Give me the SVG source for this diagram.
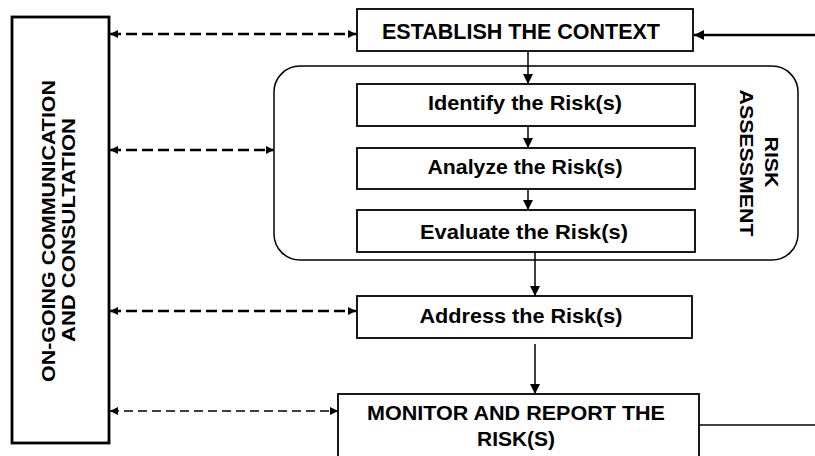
<svg xmlns="http://www.w3.org/2000/svg" width="815" height="456" viewBox="0 0 815 456">
<defs>
<style>
.box{fill:#fff;stroke:#000;stroke-width:1.8}
.t{font-family:"Liberation Sans",Arial,sans-serif;font-weight:bold;fill:#000;text-anchor:middle}
.flow{fill:none;stroke:#000;stroke-width:1.5}
.dash{fill:none;stroke:#000;stroke-width:2.5;stroke-dasharray:11 5}
.dash2{fill:none;stroke:#000;stroke-width:1.6;stroke-dasharray:9 5}
</style>
<marker id="ah" markerUnits="userSpaceOnUse" markerWidth="10" markerHeight="10" refX="10" refY="5" orient="auto-start-reverse">
<path d="M0,0 L10,5 L0,10 z" fill="#000"/>
</marker>
<marker id="ahs" markerUnits="userSpaceOnUse" markerWidth="8" markerHeight="8" refX="8" refY="4" orient="auto-start-reverse">
<path d="M0,0 L8,4 L0,8 z" fill="#000"/>
</marker>
</defs>
<rect width="815" height="456" fill="#fff"/>

<g id="communication">
<rect x="12" y="17" width="97" height="426" fill="#fff" stroke="#000" stroke-width="2.8"/>
<text class="t" font-size="19" transform="translate(55,231) rotate(-90)" textLength="302" lengthAdjust="spacingAndGlyphs">ON-GOING COMMUNICATION</text>
<text class="t" font-size="19" transform="translate(75,230) rotate(-90)" textLength="224" lengthAdjust="spacingAndGlyphs">AND CONSULTATION</text>
</g>

<g id="risk-assessment">
<rect x="274" y="66" width="524" height="194" rx="26" ry="26" fill="#fff" stroke="#000" stroke-width="1.5"/>
<text class="t" font-size="18" transform="translate(765,162) rotate(90)" textLength="51" lengthAdjust="spacingAndGlyphs">RISK</text>
<text class="t" font-size="18" transform="translate(740,163) rotate(90)" textLength="147" lengthAdjust="spacingAndGlyphs">ASSESSMENT</text>
</g>

<g id="establish">
<rect class="box" x="357" y="9" width="336" height="42"/>
<text class="t" x="521" y="39" font-size="22" textLength="278" lengthAdjust="spacingAndGlyphs">ESTABLISH THE CONTEXT</text>
</g>

<g id="identify">
<rect class="box" x="357" y="84" width="338" height="42"/>
<text class="t" x="525" y="110" font-size="20.5" textLength="194" lengthAdjust="spacingAndGlyphs">Identify the Risk(s)</text>
</g>

<g id="analyze">
<rect class="box" x="357" y="148" width="338" height="41"/>
<text class="t" x="525" y="174" font-size="20.5" textLength="195" lengthAdjust="spacingAndGlyphs">Analyze the Risk(s)</text>
</g>

<g id="evaluate">
<rect class="box" x="357" y="210" width="338" height="42"/>
<text class="t" x="524" y="239" font-size="20.5" textLength="208" lengthAdjust="spacingAndGlyphs">Evaluate the Risk(s)</text>
</g>

<g id="address">
<rect class="box" x="357" y="296" width="335" height="42"/>
<text class="t" x="521" y="323" font-size="20.5" textLength="203" lengthAdjust="spacingAndGlyphs">Address the Risk(s)</text>
</g>

<g id="monitor">
<rect class="box" x="338" y="394" width="361" height="80"/>
<text class="t" x="516" y="420" font-size="21" textLength="298" lengthAdjust="spacingAndGlyphs">MONITOR AND REPORT THE</text>
<text class="t" x="516" y="446" font-size="21" textLength="78" lengthAdjust="spacingAndGlyphs">RISK(S)</text>
</g>

<g id="connectors">
<line class="flow" x1="528" y1="51" x2="528" y2="84" marker-end="url(#ah)"/>
<line class="flow" x1="528" y1="126" x2="528" y2="148" marker-end="url(#ah)"/>
<line class="flow" x1="528" y1="189" x2="528" y2="210" marker-end="url(#ah)"/>
<line class="flow" x1="535" y1="252" x2="535" y2="296" marker-end="url(#ah)"/>
<line class="flow" x1="535" y1="344" x2="535" y2="394" marker-end="url(#ah)"/>
<line x1="815" y1="35" x2="694" y2="35" stroke="#000" stroke-width="2.5" marker-end="url(#ah)"/>
<line class="flow" x1="699" y1="425" x2="815" y2="425"/>
<line class="dash" x1="110" y1="34" x2="356" y2="34" marker-start="url(#ahs)" marker-end="url(#ahs)"/>
<line class="dash" x1="110" y1="150" x2="274" y2="150" marker-start="url(#ahs)" marker-end="url(#ahs)"/>
<line class="dash" x1="110" y1="311" x2="356" y2="311" marker-start="url(#ahs)" marker-end="url(#ahs)"/>
<line class="dash2" x1="110" y1="411" x2="338" y2="411" marker-start="url(#ahs)" marker-end="url(#ahs)"/>
</g>
</svg>
